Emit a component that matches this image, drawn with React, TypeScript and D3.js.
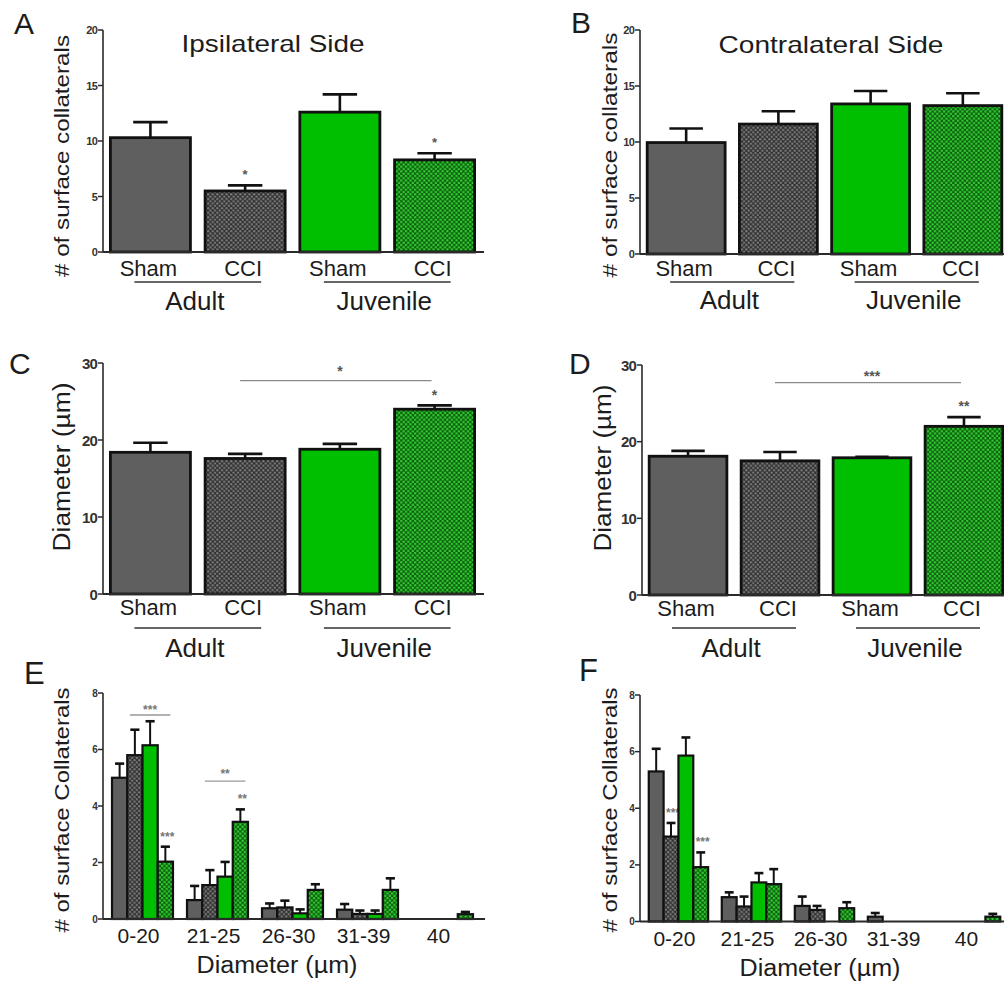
import React from "react";
import * as d3 from "d3";

// ---------- DATA ----------
const conditionLabels = ["Sham", "CCI", "Sham", "CCI"];
const ageLabels = ["Adult", "Juvenile"];

// A: Ipsilateral side, # of surface collaterals
const ipsiCountMean = [10.3, 5.5, 12.6, 8.3];
const ipsiCountErr = [1.4, 0.5, 1.6, 0.6];
const ipsiCountSig = ["", "*", "", "*"];

// B: Contralateral side, # of surface collaterals
const contraCountMean = [9.95, 11.6, 13.4, 13.25];
const contraCountErr = [1.25, 1.15, 1.15, 1.1];
const contraCountSig = ["", "", "", ""];

// C: Ipsilateral diameter
const ipsiDiamMean = [18.4, 17.6, 18.8, 24.0];
const ipsiDiamErr = [1.25, 0.6, 0.7, 0.5];
const ipsiDiamSig = ["", "", "", "*"];

// D: Contralateral diameter
const contraDiamMean = [18.1, 17.5, 17.9, 22.0];
const contraDiamErr = [0.7, 1.15, 0.12, 1.2];
const contraDiamSig = ["", "", "", "**"];

// E / F: distribution by diameter bin
const binLabels = ["0-20", "21-25", "26-30", "31-39", "40"];

const ipsiAdultSham = [5.0, 0.67, 0.38, 0.33, 0];
const ipsiAdultShamErr = [0.5, 0.5, 0.17, 0.2, 0];
const ipsiAdultCCI = [5.8, 1.2, 0.41, 0.18, 0];
const ipsiAdultCCIErr = [0.9, 0.53, 0.24, 0.12, 0];
const ipsiJuvSham = [6.15, 1.5, 0.2, 0.18, 0];
const ipsiJuvShamErr = [0.85, 0.52, 0.14, 0.12, 0];
const ipsiJuvCCI = [2.03, 3.44, 1.03, 1.03, 0.17];
const ipsiJuvCCIErr = [0.53, 0.44, 0.2, 0.41, 0.08];
const ipsiJuvCCISig = ["***", "**", "", "", ""];

const contraAdultSham = [5.3, 0.86, 0.55, 0.17, 0];
const contraAdultShamErr = [0.8, 0.17, 0.33, 0.13, 0];
const contraAdultCCI = [3.0, 0.53, 0.41, 0, 0];
const contraAdultCCIErr = [0.48, 0.35, 0.14, 0, 0];
const contraAdultCCISig = ["***", "", "", "", ""];
const contraJuvSham = [5.86, 1.38, 0, 0, 0];
const contraJuvShamErr = [0.64, 0.33, 0, 0, 0];
const contraJuvCCI = [1.92, 1.32, 0.47, 0, 0.17];
const contraJuvCCIErr = [0.52, 0.53, 0.21, 0, 0.1];
const contraJuvCCISig = ["***", "", "", "", ""];

const FILLS = ["#5f5f5f", "url(#dotGray)", "#00be00", "url(#dotGreen)"];
const FONT = "'Liberation Sans', Arial, Helvetica, sans-serif";
const TXT = "#1c1c1c";
const AX = "#2a2a2a";

type Bracket = { from: number; to: number; level: number; label: string; bin?: number; starGap: number };

function YAxis({ y, x, ticks, size, top, bottom }: any) {
  return (
    <g>
      <line x1={x} x2={x} y1={top} y2={bottom} stroke={AX} strokeWidth={1.6} />
      {ticks.map((t: number) => (
        <g key={t}>
          <line x1={x - 5} x2={x} y1={y(t)} y2={y(t)} stroke={AX} strokeWidth={1.5} />
          <text
            x={x - 6}
            y={y(t)}
            textAnchor="end"
            dominantBaseline="central"
            fontSize={size}
            fontWeight="bold"
            letterSpacing={-0.8}
            fill="#333"
            fontFamily={FONT}
          >
            {t}
          </text>
        </g>
      ))}
    </g>
  );
}

function RotLabel({ x, y, text, size, len }: any) {
  return (
    <text
      transform={`translate(${x},${y}) rotate(-90)`}
      textAnchor="middle"
      dominantBaseline="central"
      fontSize={size}
      fill={TXT}
      fontFamily={FONT}
      textLength={len}
      lengthAdjust="spacingAndGlyphs"
    >
      {text}
    </text>
  );
}

function BarPanel(p: any) {
  const idx = d3.range(p.means.length);
  const x = d3.scaleBand<number>().domain(idx).range([p.axisX, p.rangeEnd]).paddingInner(0.155).paddingOuter(0.078);
  const y = d3.scaleLinear().domain([0, p.yMax]).range([p.yBottom, p.yTop]);
  const bw = x.bandwidth();
  const cx = (i: number) => (x(i) as number) + bw / 2;
  const ticks = y.ticks(p.tickCount);
  const capW = bw * 0.43;
  const ageSpans = [
    [cx(0) - 16, cx(1) + 16],
    [cx(2) - 16, cx(3) + 16],
  ];
  return (
    <g>
      <text x={p.letterX} y={p.letterY} fontSize={30} fill={TXT} fontFamily={FONT}>
        {p.letter}
      </text>
      {p.title && (
        <text
          x={p.titleX}
          y={p.titleY}
          textAnchor="middle"
          fontSize={24}
          fill={TXT}
          fontFamily={FONT}
          textLength={p.titleLen}
          lengthAdjust="spacingAndGlyphs"
        >
          {p.title}
        </text>
      )}
      <RotLabel x={p.yLabelX} y={p.yLabelY} text={p.yLabel} size={p.yLabelSize} len={p.yLabelLen} />
      {idx.map((i) => {
        const m = p.means[i];
        const top = y(m);
        const eTop = y(m + p.errs[i]);
        return (
          <g key={i}>
            <line x1={cx(i)} x2={cx(i)} y1={top} y2={eTop} stroke="#111" strokeWidth={2.6} />
            <line x1={cx(i) - capW / 2} x2={cx(i) + capW / 2} y1={eTop} y2={eTop} stroke="#111" strokeWidth={2.6} />
            <rect x={x(i)} y={top} width={bw} height={y(0) - top} fill={FILLS[i]} stroke="#111" strokeWidth={2.8} />
            {p.sig[i] && (
              <text
                x={cx(i)}
                y={eTop - p.sigGap}
                textAnchor="middle"
                fontSize={p.sigSize}
                fill="#555"
                fontFamily={FONT}
                fontWeight="bold"
              >
                {p.sig[i]}
              </text>
            )}
          </g>
        );
      })}
      {p.bracket && (
        <g>
          <line
            x1={cx(p.bracket.from) - 5}
            x2={cx(p.bracket.to) - 3}
            y1={y(p.bracket.level)}
            y2={y(p.bracket.level)}
            stroke="#8a8a8a"
            strokeWidth={1.3}
          />
          <text
            x={(cx(p.bracket.from) + cx(p.bracket.to)) / 2}
            y={y(p.bracket.level) - p.bracket.starGap}
            textAnchor="middle"
            fontSize={14}
            fill="#555"
            fontWeight="bold"
            fontFamily={FONT}
          >
            {p.bracket.label}
          </text>
        </g>
      )}
      <YAxis y={y} x={p.axisX} ticks={ticks} size={p.tickSize} top={p.yTop} bottom={p.yBottom} />
      <line x1={p.axisX} x2={p.axisEnd} y1={p.yBottom} y2={p.yBottom} stroke={AX} strokeWidth={1.8} />
      {idx.map((i) => (
        <text key={i} x={cx(i) - 2} y={p.catY} textAnchor="middle" fontSize={22} fill={TXT} fontFamily={FONT}>
          {conditionLabels[i]}
        </text>
      ))}
      {ageSpans.map((s, k) => (
        <g key={k}>
          <line x1={s[0]} x2={s[1]} y1={p.lineY} y2={p.lineY} stroke="#333" strokeWidth={1.6} />
          <text x={(s[0] + s[1]) / 2 - 3} y={p.ageY} textAnchor="middle" fontSize={26} fill={TXT} fontFamily={FONT}>
            {ageLabels[k]}
          </text>
        </g>
      ))}
    </g>
  );
}

function DistPanel(p: any) {
  const bins = d3.range(binLabels.length);
  const series = d3.range(p.series.length);
  const x0 = d3.scaleBand<number>().domain(bins).range([p.axisX, p.rangeEnd]).paddingInner(0.187).paddingOuter(0.12);
  const x1 = d3.scaleBand<number>().domain(series).range([0, x0.bandwidth()]);
  const y = d3.scaleLinear().domain([0, 8]).range([p.yBottom, p.yTop]);
  const bw = x1.bandwidth();
  const barX = (b: number, s: number) => (x0(b) as number) + (x1(s) as number);
  const cx = (b: number, s: number) => barX(b, s) + bw / 2;
  const capW = bw * 0.6;
  return (
    <g>
      <text x={p.letterX} y={p.letterY} fontSize={31} fill={TXT} fontFamily={FONT}>
        {p.letter}
      </text>
      <RotLabel x={p.yLabelX} y={p.yLabelY} text={p.yLabel} size={20} len={245} />
      {series.map((s) =>
        bins.map((b) => {
          const m = p.series[s][b];
          if (!m) return null;
          const top = y(m);
          const eTop = y(m + p.errs[s][b]);
          const sig = p.sigs[s] ? p.sigs[s][b] : "";
          return (
            <g key={`${s}-${b}`}>
              <line x1={cx(b, s)} x2={cx(b, s)} y1={top} y2={eTop} stroke="#111" strokeWidth={2} />
              <line x1={cx(b, s) - capW / 2} x2={cx(b, s) + capW / 2} y1={eTop} y2={eTop} stroke="#111" strokeWidth={2.6} />
              <rect x={barX(b, s)} y={top} width={bw} height={y(0) - top} fill={FILLS[s]} stroke="#111" strokeWidth={2.2} />
              {sig && (
                <text
                  x={cx(b, s) + 2}
                  y={eTop - 6}
                  textAnchor="middle"
                  fontSize={12}
                  fill="#777"
                  fontWeight="bold"
                  fontFamily={FONT}
                >
                  {sig}
                </text>
              )}
            </g>
          );
        })
      )}
      {p.brackets.map((br: Bracket, k: number) => {
        const b = br.bin as number;
        const xa = cx(b, br.from) - 5;
        const xb = cx(b, br.to) + 5;
        return (
          <g key={k}>
            <line x1={xa} x2={xb} y1={y(br.level)} y2={y(br.level)} stroke="#999" strokeWidth={1.4} />
            <text
              x={(xa + xb) / 2}
              y={y(br.level) - br.starGap}
              textAnchor="middle"
              fontSize={12}
              fill="#777"
              fontWeight="bold"
              fontFamily={FONT}
            >
              {br.label}
            </text>
          </g>
        );
      })}
      <YAxis y={y} x={p.axisX} ticks={y.ticks(4)} size={10} top={p.yTop} bottom={p.yBottom} />
      <line x1={p.axisX} x2={p.axisEnd} y1={p.yBottom} y2={p.yBottom} stroke={AX} strokeWidth={1.8} />
      {bins.map((b) => (
        <text
          key={b}
          x={(x0(b) as number) + x0.bandwidth() / 2 - 4}
          y={p.yBottom + 24}
          textAnchor="middle"
          fontSize={21}
          fill={TXT}
          fontFamily={FONT}
        >
          {binLabels[b]}
        </text>
      ))}
      <text
        x={p.xTitleX}
        y={p.yBottom + 54}
        textAnchor="middle"
        fontSize={23}
        fill={TXT}
        fontFamily={FONT}
        textLength={161}
        lengthAdjust="spacingAndGlyphs"
      >
        Diameter (µm)
      </text>
    </g>
  );
}

export default function App() {
  return (
    <div style={{ position: "absolute", left: 0, top: 0 }}>
      <svg width={1004} height={984} viewBox="0 0 1004 984" style={{ display: "block", background: "#fff" }}>
        <defs>
          <pattern id="dotGray" width={4.6} height={4.6} patternUnits="userSpaceOnUse">
            <rect width={4.6} height={4.6} fill="#303030" />
            <circle cx={1.15} cy={1.15} r={1.15} fill="#7e7e7e" />
            <circle cx={3.45} cy={3.45} r={1.15} fill="#7e7e7e" />
          </pattern>
          <pattern id="dotGreen" width={4.6} height={4.6} patternUnits="userSpaceOnUse">
            <rect width={4.6} height={4.6} fill="#0b5e0b" />
            <circle cx={1.15} cy={1.15} r={1.25} fill="#34cc34" />
            <circle cx={3.45} cy={3.45} r={1.25} fill="#34cc34" />
          </pattern>
        </defs>

        <BarPanel
          letter="A" letterX={14} letterY={34}
          title="Ipsilateral Side" titleX={273} titleY={52} titleLen={183}
          yLabel="# of surface collaterals" yLabelX={62} yLabelY={156} yLabelSize={20} yLabelLen={242}
          axisX={103} rangeEnd={482} axisEnd={484} yTop={30} yBottom={252} yMax={20} tickCount={4}
          tickSize={11}
          means={ipsiCountMean} errs={ipsiCountErr} sig={ipsiCountSig} sigGap={6} sigSize={13}
          catY={276} lineY={282} ageY={310}
        />
        <BarPanel
          letter="B" letterX={571} letterY={33}
          title="Contralateral Side" titleX={831} titleY={53} titleLen={225}
          yLabel="# of surface collaterals" yLabelX={610} yLabelY={155} yLabelSize={20} yLabelLen={245}
          axisX={640} rangeEnd={1009} axisEnd={1004} yTop={30} yBottom={254} yMax={20} tickCount={4}
          tickSize={11}
          means={contraCountMean} errs={contraCountErr} sig={contraCountSig} sigGap={6} sigSize={13}
          catY={276} lineY={282} ageY={309}
        />
        <BarPanel
          letter="C" letterX={9} letterY={374}
          yLabel="Diameter (µm)" yLabelX={62} yLabelY={467} yLabelSize={23} yLabelLen={169}
          axisX={103} rangeEnd={482} axisEnd={484} yTop={363} yBottom={594} yMax={30} tickCount={3}
          tickSize={15}
          means={ipsiDiamMean} errs={ipsiDiamErr} sig={ipsiDiamSig} sigGap={5} sigSize={14}
          bracket={{ from: 1, to: 3, level: 27.7, label: "*", starGap: 5 }}
          catY={615} lineY={628} ageY={657}
        />
        <BarPanel
          letter="D" letterX={569} letterY={374}
          yLabel="Diameter (µm)" yLabelX={603} yLabelY={468} yLabelSize={23} yLabelLen={167}
          axisX={642} rangeEnd={1010} axisEnd={1004} yTop={365} yBottom={595} yMax={30} tickCount={3}
          tickSize={15}
          means={contraDiamMean} errs={contraDiamErr} sig={contraDiamSig} sigGap={6} sigSize={14}
          bracket={{ from: 1, to: 3, level: 27.7, label: "***", starGap: 2 }}
          catY={616} lineY={628} ageY={657}
        />
        <DistPanel
          letter="E" letterX={24} letterY={684}
          yLabel="# of surface Collaterals" yLabelX={62} yLabelY={810}
          axisX={103} rangeEnd={482} axisEnd={485} yTop={693} yBottom={919}
          series={[ipsiAdultSham, ipsiAdultCCI, ipsiJuvSham, ipsiJuvCCI]}
          errs={[ipsiAdultShamErr, ipsiAdultCCIErr, ipsiJuvShamErr, ipsiJuvCCIErr]}
          sigs={[null, null, null, ipsiJuvCCISig]}
          brackets={[
            { bin: 0, from: 1, to: 3, level: 7.22, label: "***", starGap: 1 },
            { bin: 1, from: 1, to: 3, level: 4.88, label: "**", starGap: 3 },
          ]}
          xTitleX={277}
        />
        <DistPanel
          letter="F" letterX={579} letterY={681}
          yLabel="# of surface Collaterals" yLabelX={610} yLabelY={810}
          axisX={640} rangeEnd={1009} axisEnd={1004} yTop={695} yBottom={921.5}
          series={[contraAdultSham, contraAdultCCI, contraJuvSham, contraJuvCCI]}
          errs={[contraAdultShamErr, contraAdultCCIErr, contraJuvShamErr, contraJuvCCIErr]}
          sigs={[null, contraAdultCCISig, null, contraJuvCCISig]}
          brackets={[]}
          xTitleX={820}
        />
      </svg>
    </div>
  );
}
